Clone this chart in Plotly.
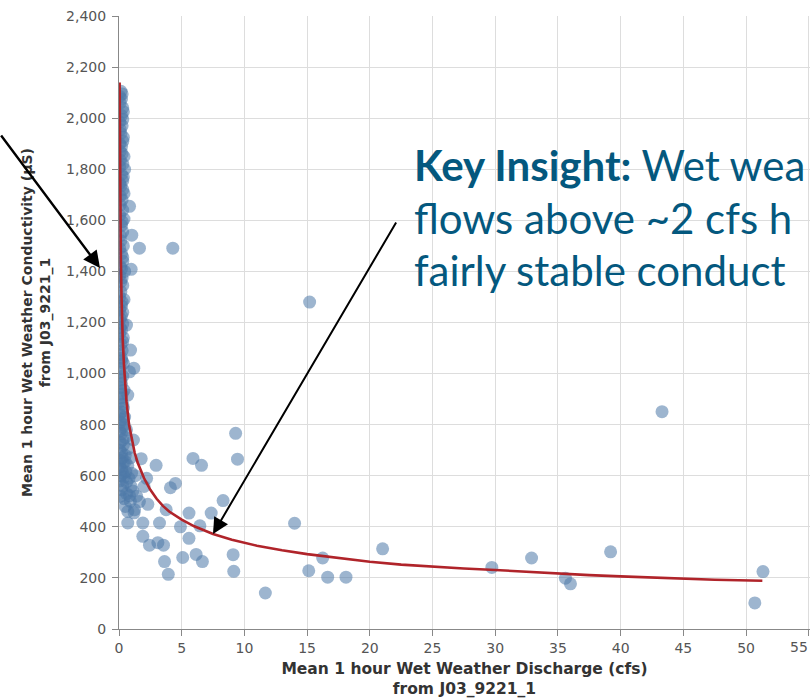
import plotly.graph_objects as go

# ---- data ----
discharge = [
    # dense strip next to the y axis
    0.15, 0.25, 0.10, 0.30, 0.20, 0.30, 0.25, 0.15, 0.30, 0.20, 0.10, 0.40, 0.30, 0.45, 0.20,
    0.30, 0.15, 0.40, 0.25, 0.10, 0.40, 0.20, 0.30, 0.15, 0.35, 0.20, 0.30, 0.10, 0.45, 0.25,
    0.30, 0.15, 0.40, 0.20, 0.30, 0.10, 0.30, 0.20, 0.35, 0.15, 0.25, 0.20, 0.35, 0.10, 0.30,
    0.20, 0.40, 0.15, 0.30, 0.20, 0.45, 0.10, 0.30, 0.60, 0.20, 0.50, 0.10, 0.35, 0.70, 0.20,
    0.50, 0.90, 0.10, 0.35, 0.70, 0.20, 0.55, 1.00, 0.15, 0.40, 0.80, 1.30, 0.60, 0.30, 1.10,
    0.60, 0.90, 1.40, 0.50, 1.20,
    0.05, 0.20, 0.35, 0.05, 0.10, 0.35, 0.05, 0.25, 0.10, 0.05, 0.35, 0.05, 0.30, 0.10, 0.30,
    0.05, 0.25, 0.10, 0.05, 0.30, 0.20, 0.05, 0.15, 0.05, 0.25, 0.05, 0.20, 0.10, 0.05, 0.30,
    0.05, 0.25, 0.05, 0.15, 0.05, 0.25, 0.05, 0.35, 0.05, 0.20, 0.40, 0.05, 0.30, 0.05, 0.25,
    0.50, 0.05, 0.30, 0.05, 0.20, 0.40, 0.10,
    # scattered points
    0.97, 0.84, 1.02, 1.63, 4.29, 0.60, 0.92, 1.18, 0.84, 0.70, 1.15, 1.77, 2.96, 5.90, 6.58,
    9.30, 9.45, 2.20, 2.00, 0.97, 4.50, 4.10, 0.84, 1.63, 2.30, 1.24, 0.70, 3.76, 8.30, 5.58,
    7.35, 0.70, 1.90, 3.23, 4.90, 6.45, 14.00, 1.90, 2.43, 3.10, 3.55, 5.58, 3.63, 5.08, 6.15,
    6.65, 3.93, 9.10, 9.15, 16.24, 15.13, 16.64, 18.10, 11.67, 15.20, 21.02, 29.73, 32.90,
    35.60, 36.00, 39.20, 43.30, 51.35, 50.70,
]
conductivity = [
    2105, 2095, 2060, 2040, 2010, 1995, 1970, 1940, 1910, 1890, 1870, 1850, 1820, 1800, 1780,
    1755, 1735, 1705, 1680, 1660, 1605, 1580, 1555, 1520, 1500, 1470, 1440, 1420, 1400, 1375,
    1345, 1320, 1290, 1265, 1240, 1215, 1195, 1170, 1140, 1115, 1090, 1060, 1040, 1020, 990,
    960, 935, 905, 880, 850, 830, 810, 790, 780, 765, 750, 730, 720, 705, 690,
    680, 670, 660, 650, 640, 625, 615, 610, 600, 595, 590, 600, 575, 560, 540,
    530, 500, 520, 480, 455,
    2085, 2075, 2025, 1985, 1955, 1925, 1900, 1860, 1835, 1810, 1770, 1745, 1720, 1695, 1640,
    1620, 1595, 1540, 1490, 1455, 1410, 1385, 1360, 1300, 1280, 1250, 1225, 1180, 1155, 1125,
    1075, 1050, 1005, 975, 945, 920, 890, 865, 840, 820, 800, 775, 740, 700, 670,
    655, 635, 610, 580, 545, 510, 520,
    1408, 1655, 1542, 1491, 1491, 1190, 1092, 1021, 1007, 916, 740, 667, 641, 668, 641,
    766, 665, 590, 558, 558, 570, 553, 522, 499, 488, 467, 460, 467, 503, 454,
    454, 415, 415, 415, 400, 404, 414, 363, 328, 338, 328, 355, 264, 280, 292,
    264, 214, 291, 226, 278, 228, 203, 203, 141, 1280, 314, 241, 278,
    199, 177, 302, 851, 225, 102,
]

# fitted trend line
fit_discharge = [0.05, 0.065, 0.08, 0.10, 0.12, 0.15, 0.20, 0.25, 0.30, 0.40, 0.50, 0.60, 0.80,
                 1.0, 1.25, 1.5, 2.0, 2.5, 3.0, 3.5, 4.0, 5.0, 6.0, 7.5, 9.0, 11, 13, 15, 17.5,
                 20, 22.5, 25, 27.5, 30, 32.5, 35, 37.5, 40, 42.5, 45, 47.5, 51.3]
fit_conductivity = [2140, 1950, 1790, 1660, 1560, 1440, 1300, 1200, 1130, 1030, 950, 890, 800,
                    745, 690, 650, 590, 545, 510, 482, 460, 428, 402, 372, 349, 326, 308, 293,
                    277, 263, 252, 244, 237, 231, 224, 217, 211, 206, 201, 197, 193, 189]

x_ticks = [0, 5, 10, 15, 20, 25, 30, 35, 40, 45, 50, 55]
x_tick_text = ["0", "5", "10", "15", "20", "25", "30", "35", "40", "45", "50", ""]
last_x_label = "55"
y_ticks = [0, 200, 400, 600, 800, 1000, 1200, 1400, 1600, 1800, 2000, 2200, 2400]
y_tick_text = ["0", "200", "400", "600", "800", "1,000", "1,200", "1,400", "1,600",
               "1,800", "2,000", "2,200", "2,400"]

x_title = "Mean 1 hour Wet Weather Discharge (cfs)<br>from J03_9221_1"
y_title = "Mean 1 hour Wet Weather Conductivity (µS)<br>from J03_9221_1"
# the insight box runs off the right edge of the reference; these are its visible parts
insight_lines = ["<b>Key Insight:</b> Wet wea",
                 "flows above ~2 cfs h",
                 "fairly stable conduct"]

# ---- figure ----
W, H = 810, 700
ML, MR, MT, MB = 119, 0, 16, 71
PW, PH = W - ML - MR, H - MT - MB


def px_to_paper(px, py):
    return (px - ML) / PW, (H - MB - py) / PH


fig = go.Figure()
fig.add_trace(go.Scatter(
    x=discharge, y=conductivity, mode="markers",
    marker=dict(size=13, color="#4c78a8", opacity=0.55, line=dict(width=0)),
    showlegend=False, hoverinfo="x+y",
))
fig.add_trace(go.Scatter(
    x=fit_discharge, y=fit_conductivity, mode="lines",
    line=dict(color="#b0242a", width=2.6),
    showlegend=False,
))

tick_font = dict(family="DejaVu Sans", size=14, color="#555555")
title_font = dict(family="DejaVu Sans", size=15.5, color="#333333", weight="bold")
ytitle_font = dict(family="DejaVu Sans", size=14, color="#333333", weight="bold")

fig.update_xaxes(
    range=[0, 55.1], tickvals=x_ticks, ticktext=x_tick_text, showgrid=True,
    gridcolor="#dddddd", gridwidth=1,
    showline=True, linecolor="#888888", linewidth=1, ticks="outside", ticklen=6,
    tickcolor="#888888", tickfont=tick_font, zeroline=False, automargin=False,
    title=dict(text=x_title, font=title_font, standoff=8),
)
fig.update_yaxes(
    range=[0, 2400], tickvals=y_ticks, ticktext=y_tick_text, showgrid=True,
    gridcolor="#dddddd", gridwidth=1, showline=True, linecolor="#888888", linewidth=1,
    ticks="outside", ticklen=6, tickcolor="#888888", tickfont=tick_font, zeroline=False,
    automargin=False, ticklabelstandoff=3,
    title=dict(text=y_title, font=ytitle_font, standoff=12),
)

annotations = []
# last x tick label, kept inside the picture edge
annotations.append(dict(x=1, y=0, xref="paper", yref="paper", text=last_x_label,
                        showarrow=False, xanchor="right", yanchor="top", yshift=-8,
                        font=tick_font))
# arrow 1 : towards the near-zero cluster
tx, ty = px_to_paper(100, 268)
annotations.append(dict(x=tx, y=ty, xref="paper", yref="paper", text="", showarrow=True,
                        ax=-106, ay=-134, axref="pixel", ayref="pixel",
                        arrowhead=2, arrowsize=1.4, arrowwidth=2.4, arrowcolor="#000000",
                        standoff=0))
# arrow 2 : towards the fitted curve
tx, ty = px_to_paper(213, 534)
annotations.append(dict(x=tx, y=ty, xref="paper", yref="paper", text="", showarrow=True,
                        ax=184, ay=-313, axref="pixel", ayref="pixel",
                        arrowhead=2, arrowsize=1.6, arrowwidth=2.0, arrowcolor="#000000",
                        standoff=0))
# key insight text
for line, cy in zip(insight_lines, [165, 218, 270]):
    px, py = px_to_paper(412, cy)
    annotations.append(dict(x=px, y=py, xref="paper", yref="paper", text=line,
                            showarrow=False, xanchor="left", yanchor="middle",
                            font=dict(family="Lato", size=42, color="#04587e")))

fig.update_layout(
    width=W, height=H, margin=dict(l=ML, r=MR, t=MT, b=MB),
    paper_bgcolor="white", plot_bgcolor="white",
    annotations=annotations,
)

fig.write_html("out.html")
